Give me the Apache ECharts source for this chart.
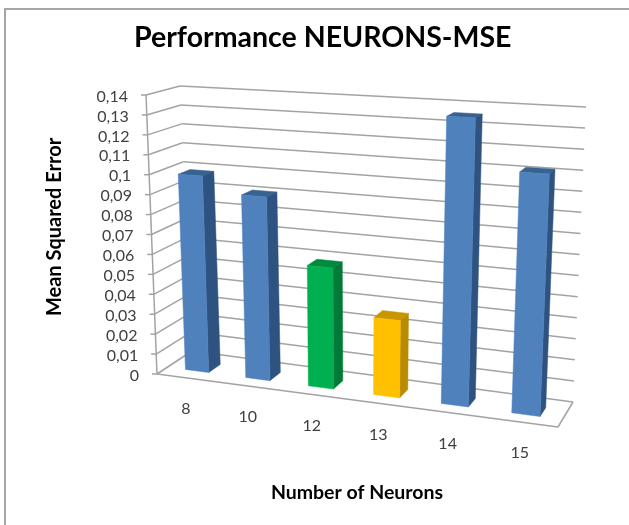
<!DOCTYPE html>
<html>
<head>
<meta charset="utf-8">
<style>html,body{margin:0;padding:0;background:#fff}#c{width:629px;height:525px}</style>
<script src="https://cdn.jsdelivr.net/npm/echarts@6/dist/echarts.min.js"></script>
</head>
<body>
<div id="c"></div>
<script>
const categories = ['8', '10', '12', '13', '14', '15'];
const mseValues = [0.099, 0.091, 0.059, 0.037, 0.136, 0.112];
const yTicks = [0, 0.01, 0.02, 0.03, 0.04, 0.05, 0.06, 0.07, 0.08, 0.09, 0.1, 0.11, 0.12, 0.13, 0.14];
const yTickLabels = ['0', '0,01', '0,02', '0,03', '0,04', '0,05', '0,06', '0,07', '0,08', '0,09', '0,1', '0,11', '0,12', '0,13', '0,14'];
const barThemes = ['blue', 'blue', 'green', 'yellow', 'blue', 'blue'];

const palette = {
  blue: { front: '#4f81bd', side: '#2f5380', top: '#38628f' },
  green: { front: '#00b050', side: '#007a37', top: '#008a3e' },
  yellow: { front: '#ffc000', side: '#b98b00', top: '#c79600' }
};

const box = {
  frontLeftBottom: [157, 374], frontLeftTop: [146, 95],
  frontRightBottom: [558, 427], frontRightTop: [571, 118],
  backLeftBottom: [192, 351], backLeftTop: [180, 86],
  backRightBottom: [573, 402], backRightTop: [586, 107]
};
const PERSPECTIVE = 1.125;
const warp = u => u / (u + PERSPECTIVE * (1 - u));
const mix = (a, b, t) => [a[0] + (b[0] - a[0]) * t, a[1] + (b[1] - a[1]) * t];
function project(u, d, w) {
  const s = warp(u);
  const front = mix(mix(box.frontLeftBottom, box.frontRightBottom, s), mix(box.frontLeftTop, box.frontRightTop, s), w);
  const back = mix(mix(box.backLeftBottom, box.backRightBottom, s), mix(box.backLeftTop, box.backRightTop, s), w);
  return mix(front, back, d);
}
const BAR_WIDTH = 0.39, DEPTH_FROM = 0.3, DEPTH_TO = 0.65;
const FONT = 'Lato, "Open Sans", sans-serif';
const GRID_COLOR = '#a3a3a3';
const TEXT_COLOR = '#404040';

function norm(params, pt) {
  const cs = params.coordSys;
  return [(pt[0] - cs.x) / cs.width, (cs.y + cs.height - pt[1]) / cs.height];
}
function line(a, b) {
  return { type: 'line', shape: { x1: a[0], y1: a[1], x2: b[0], y2: b[1] },
    style: { stroke: GRID_COLOR, lineWidth: 1.5, fill: null } };
}
function renderFrame(params, api) {
  const w = norm(params, api.coord([0, api.value(1)]))[1];
  const a = project(0, 0, w), b = project(0, 1, w), c = project(1, 1, w);
  const children = [line(a, b), line(b, c), line([a[0] - 5, a[1]], a)];
  children.push({ type: 'text', style: {
    text: yTickLabels[params.dataIndex], x: a[0] - 18, y: a[1] + 1.5,
    align: 'right', verticalAlign: 'middle', font: '16px ' + FONT, fill: TEXT_COLOR } });
  if (params.dataIndex === 0) {
    children.push(line(project(0, 0, 0), project(1, 0, 0)));
    children.push(line(project(1, 0, 0), project(1, 1, 0)));
    children.push(line(project(0, 0, 0), project(0, 0, 1)));
  }
  return { type: 'group', children };
}
function renderBar(params, api) {
  const i = api.value(0);
  const base = norm(params, api.coord([i, 0]));
  const h = norm(params, api.coord([i, api.value(1)]))[1];
  const band = api.size([1, 0])[0] / params.coordSys.width;
  const u0 = base[0] - band * BAR_WIDTH / 2, u1 = base[0] + band * BAR_WIDTH / 2;
  const col = palette[barThemes[params.dataIndex]];
  const poly = (pts, fill) => ({ type: 'polygon', shape: { points: pts }, style: { fill, stroke: fill, lineWidth: 0.5 } });
  const f = DEPTH_FROM, t = DEPTH_TO;
  const labelAnchor = project(base[0], 0, 0);
  return { type: 'group', children: [
    poly([project(u0, f, h), project(u1, f, h), project(u1, t, h), project(u0, t, h)], col.top),
    poly([project(u1, f, 0), project(u1, t, 0), project(u1, t, h), project(u1, f, h)], col.side),
    poly([project(u0, f, 0), project(u1, f, 0), project(u1, f, h), project(u0, f, h)], col.front),
    { type: 'text', style: { text: categories[params.dataIndex], x: labelAnchor[0] - 1, y: labelAnchor[1] + 31,
      align: 'center', verticalAlign: 'middle', font: '16px ' + FONT, fill: TEXT_COLOR } }
  ] };
}

const chart = echarts.init(document.getElementById('c'), null, { renderer: 'canvas' });
chart.setOption({
  animation: false,
  backgroundColor: '#ffffff',
  title: { text: 'Performance NEURONS-MSE', left: 134, top: 23, padding: 0,
    textStyle: { fontFamily: FONT, fontSize: 28.5, fontWeight: 'bold', color: '#000000' } },
  grid: { left: 146, top: 86, width: 422, height: 282 },
  xAxis: { type: 'category', data: categories, name: 'Number of Neurons', nameLocation: 'middle', nameGap: 125,
    nameTextStyle: { fontFamily: FONT, fontSize: 19.5, fontWeight: 'bold', color: '#000', verticalAlign: 'middle' },
    axisLine: { show: false }, axisTick: { show: false }, axisLabel: { show: false }, splitLine: { show: false } },
  yAxis: { type: 'value', min: 0, max: 0.14, interval: 0.01, name: 'Mean Squared Error', nameLocation: 'middle', nameGap: 91,
    nameTextStyle: { fontFamily: FONT, fontSize: 20, fontWeight: 'bold', color: '#000', verticalAlign: 'middle' },
    axisLine: { show: false }, axisTick: { show: false }, axisLabel: { show: false }, splitLine: { show: false } },
  graphic: [{ type: 'polyline', silent: true, shape: { points: [[5, 525], [5, 9], [629, 9]] },
    style: { stroke: '#a6a6a6', lineWidth: 2, fill: null } }],
  series: [
    { type: 'custom', name: 'frame', renderItem: renderFrame, encode: { x: 0, y: 1 }, silent: true,
      data: yTicks.map(t => [0, t]), z: 1 },
    { type: 'custom', name: 'MSE', renderItem: renderBar, encode: { x: 0, y: 1 }, silent: true,
      data: mseValues.map((v, i) => [i, v]), z: 2 }
  ]
});
</script>
</body>
</html>
